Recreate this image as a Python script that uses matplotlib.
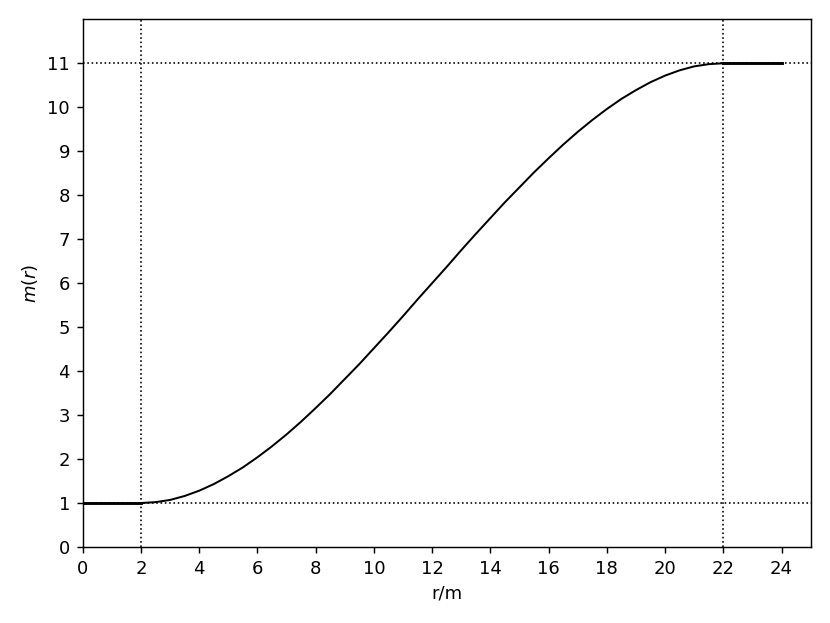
import matplotlib
matplotlib.use("Agg")
import matplotlib.pyplot as plt

# flat parts
r_low = [0, 2]
m_low = [1, 1]
r_high = [22, 24]
m_high = [11, 11]

# transition curve
r_mid = [2.0, 2.5, 3.0, 3.5, 4.0, 4.5, 5.0, 5.5, 6.0, 6.5, 7.0, 7.5, 8.0, 8.5,
         9.0, 9.5, 10.0, 10.5, 11.0, 11.5, 12.0, 12.5, 13.0, 13.5, 14.0, 14.5,
         15.0, 15.5, 16.0, 16.5, 17.0, 17.5, 18.0, 18.5, 19.0, 19.5, 20.0,
         20.5, 21.0, 21.5, 22.0]
m_mid = [1.00, 1.02, 1.07, 1.16, 1.28, 1.43, 1.61, 1.81, 2.04, 2.29, 2.56,
         2.85, 3.16, 3.48, 3.82, 4.16, 4.52, 4.88, 5.25, 5.63, 6.00, 6.37,
         6.75, 7.12, 7.48, 7.84, 8.18, 8.52, 8.84, 9.15, 9.44, 9.71, 9.96,
         10.19, 10.39, 10.57, 10.72, 10.84, 10.93, 10.98, 11.00]

ref_x = [2, 22]
ref_y = [1, 11]
x_ticks = list(range(0, 25, 2))
y_ticks = list(range(0, 12))

fig = plt.figure(figsize=(830 / 130, 623 / 130), dpi=130)
ax = fig.add_axes([82.7 / 830, 1 - 547 / 623, (810.7 - 82.7) / 830, (547 - 19.3) / 623])

for xv in ref_x:
    ax.axvline(xv, color="black", linestyle=":", linewidth=0.9)
for yv in ref_y:
    ax.axhline(yv, color="black", linestyle=":", linewidth=0.9)

ax.plot(r_low, m_low, color="black", linewidth=1.6)
ax.plot(r_mid, m_mid, color="black", linewidth=1.1)
ax.plot(r_high, m_high, color="black", linewidth=1.6)

ax.set_xlim(0, 25)
ax.set_ylim(0, 12)
ax.set_xticks(x_ticks)
ax.set_yticks(y_ticks)
ax.set_xlabel("r/m")
ax.set_ylabel("$m(r)$")

fig.savefig("out.png", dpi=130)
